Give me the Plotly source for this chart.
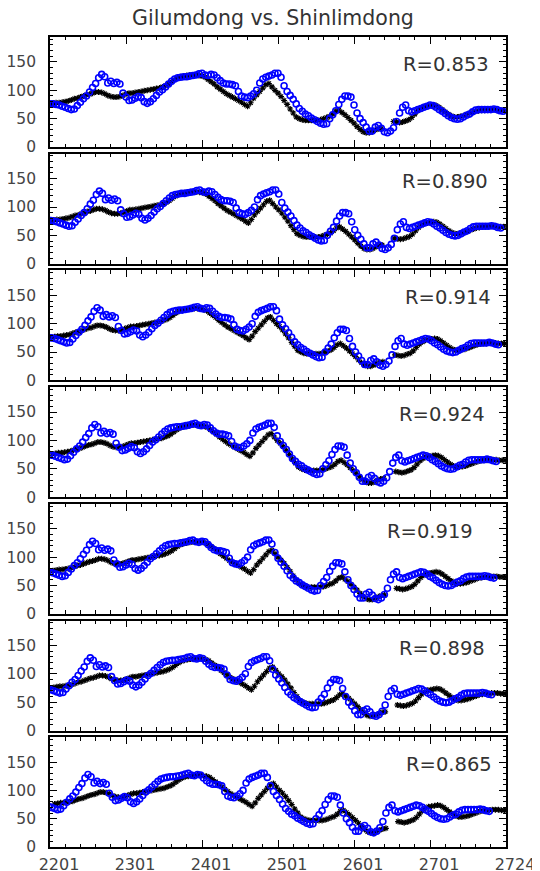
import plotly.graph_objects as go

# ---------------- data ----------------
title_text = "Gilumdong vs. Shinlimdong"
r_labels = ["R=0.853", "R=0.890", "R=0.914", "R=0.924", "R=0.919", "R=0.898", "R=0.865"]

# time index (every 4 steps)
time_index = list(range(2201, 2801, 4))

# Gilumdong (blue circles)
gilumdong = [76, 76, 75, 74, 72, 70, 68, 66, 67, 73,
             79, 85, 90, 97, 105, 112, 122, 128, 124, 113,
             116, 112, 114, 111, 95, 88, 82, 83, 86, 89,
             87, 80, 77, 80, 85, 91, 97, 101, 106, 111,
             116, 120, 122, 123, 124, 124, 125, 126, 127, 129,
             130, 127, 126, 128, 127, 122, 117, 113, 111, 111,
             110, 108, 98, 90, 88, 87, 90, 94, 100, 113,
             120, 123, 125, 127, 130, 130, 123, 108, 98, 91,
             84, 76, 68, 63, 58, 55, 51, 48, 45, 42,
             40, 41, 50, 57, 64, 75, 84, 90, 90, 88,
             74, 60, 50, 43, 35, 28, 28, 35, 38, 33,
             27, 25, 28, 34, 45, 60, 70, 74, 64, 62,
             64, 66, 68, 70, 72, 74, 73, 70, 66, 63,
             59, 55, 52, 50, 49, 50, 53, 56, 58, 62,
             65, 66, 66, 66, 66, 66, 67, 66, 64, 63]

# Shinlimdong (black stars)
shinlimdong = [76, 77, 78, 78, 79, 80, 81, 83, 85, 86,
               88, 90, 92, 93, 95, 97, 97, 96, 94, 91,
               89, 88, 88, 89, 91, 93, 95, 95, 96, 97,
               98, 99, 100, 101, 102, 103, 104, 106, 108, 111,
               115, 119, 122, 124, 125, 126, 127, 127, 127, 126,
               125, 123, 119, 115, 111, 106, 102, 98, 94, 91,
               88, 85, 82, 79, 75, 72, 78, 86, 92, 98,
               104, 110, 112, 106, 100, 95, 89, 82, 75, 67,
               60, 53, 50, 48, 47, 47, 47, 47, 47, 48,
               50, 52, 54, 58, 63, 65, 61, 57, 52, 47,
               42, 36, 31, 27, 25, 25, 27, 30, 32, 33,
               None, None, None, 45, 44, 43, 44, 46, 48, 52,
               58, 64, 68, 71, 72, 73, 74, 73, 70, 66,
               62, 58, 55, 53, 53, 54, 55, 57, 59, 61,
               63, 64, 65, 65, 66, 66, 66, 65, 65, 65]

# lag of each series in each panel (time steps)
blue_lag = [0, -3, -6, -9, -12, -15, -18]
black_lag = [0, 1, 2, 3, 4, 5, 6]

x_tickvals = [2201, 2301, 2401, 2501, 2601, 2701, 2801]
x_ticktext = ["2201", "2301", "2401", "2501", "2601", "2701", "2724"]
y_tickvals = [0, 50, 100, 150]
r_xpos = [446, 445, 448, 442, 430, 442, 449]  # page-pixel centre of R label

# ---------------- layout geometry ----------------
OFF = 8                       # page body margin of the html page
W, H = 540 - OFF, 871 - OFF
ml, mr, mt, mb = 50 - OFF, 34, 37 - OFF, 24
ph = H - mt - mb
pw = W - ml - mr
panel_h = 110
panel_step = 116.7
FONT = "DejaVu Sans"

fig = go.Figure()
n = len(r_labels)
for i in range(n):
    xs = "x" if i == 0 else f"x{i+1}"
    ys = "y" if i == 0 else f"y{i+1}"
    bx = [t + black_lag[i] for t in time_index]
    gx = [t + blue_lag[i] for t in time_index]
    fig.add_trace(go.Scatter(
        x=bx, y=shinlimdong, xaxis=xs, yaxis=ys, mode="markers",
        marker=dict(symbol="asterisk-open", size=5, color="black",
                    line=dict(color="black", width=1.2)),
        showlegend=False, hoverinfo="skip"))
    fig.add_trace(go.Scatter(
        x=gx, y=gilumdong, xaxis=xs, yaxis=ys, mode="markers",
        marker=dict(symbol="circle-open", size=6, color="#0000ff",
                    line=dict(color="#0000ff", width=1.6)),
        showlegend=False, hoverinfo="skip"))

    top_px = i * panel_step
    d_top = min(1.0, 1 - top_px / ph)
    d_bot = max(0.0, d_top - panel_h / ph)
    last = (i == n - 1)
    xkey = "xaxis" if i == 0 else f"xaxis{i+1}"
    ykey = "yaxis" if i == 0 else f"yaxis{i+1}"
    fig.layout[xkey] = dict(
        domain=[0, 1], anchor=ys, range=[2201, 2801], automargin=False,
        tickvals=x_tickvals, ticktext=x_ticktext, showticklabels=last,
        ticks="inside", ticklen=7, tickwidth=1, tickcolor="black",
        minor=dict(dtick=20, tick0=2201, ticks="inside", ticklen=3.5,
                   tickwidth=1, tickcolor="black", showgrid=False),
        showline=True, linecolor="black", linewidth=1.8, mirror="allticks",
        showgrid=False, zeroline=False,
        tickfont=dict(family=FONT, size=16, color="#444"),
        ticklabelshift=9, ticklabelstandoff=2,
    )
    fig.layout[ykey] = dict(
        domain=[d_bot, d_top], anchor=xs, range=[0, 194], automargin=False,
        tickvals=y_tickvals, ticks="inside", ticklen=7, tickwidth=1,
        tickcolor="black",
        minor=dict(dtick=10, tick0=0, ticks="inside", ticklen=3.5,
                   tickwidth=1, tickcolor="black", showgrid=False),
        showline=True, linecolor="black", linewidth=1.8, mirror="allticks",
        showgrid=False, zeroline=False,
        tickfont=dict(family=FONT, size=15.5, color="#444"),
        ticklabelstandoff=9,
    )
    fig.add_annotation(
        x=(r_xpos[i] - OFF - ml) / pw, xref="paper",
        y=1 - 27.5 / panel_h, yref=f"{ys} domain",
        text=r_labels[i], showarrow=False, xanchor="center", yanchor="middle",
        font=dict(family=FONT, size=19.5, color="#333"))

fig.update_layout(
    width=W, height=H,
    margin=dict(l=ml, r=mr, t=mt, b=mb, autoexpand=False),
    paper_bgcolor="white", plot_bgcolor="white",
    title=dict(text=title_text, x=(273 - OFF) / W, xanchor="center",
               y=1 - (18 - OFF) / H, yanchor="middle",
               font=dict(family=FONT, size=20.5, color="#333")),
)

fig.write_html("out.html")
